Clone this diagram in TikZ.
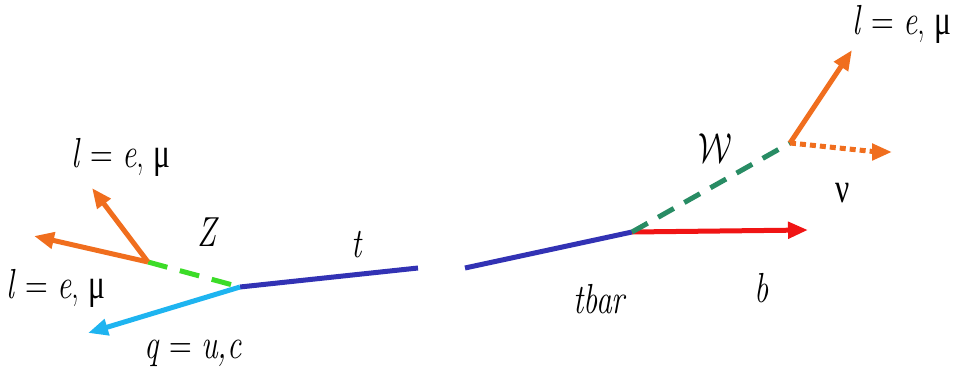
\RequirePackage{fix-cm}
\documentclass[tikz,border=0pt]{standalone}
\usepackage{fontspec}
\usetikzlibrary{arrows.meta}
\newfontfamily\gk{Liberation Serif}
\definecolor{corange}{RGB}{240,110,30}
\definecolor{cgreen}{RGB}{60,220,40}
\definecolor{cteal}{RGB}{40,140,100}
\definecolor{cblue}{RGB}{50,50,180}
\definecolor{ccyan}{RGB}{30,180,240}
\definecolor{cred}{RGB}{240,20,20}
\tikzset{
  lab/.style={font=\fontsize{42}{46}\selectfont, inner sep=0pt, anchor=base},
  ptl/.style={line width=5pt, -{Triangle[length=20pt,width=16pt]}},
  prop/.style={line width=5pt},
}
\newcommand{\sq}[1]{\scalebox{0.75}[1]{#1}}
\newcommand{\lem}{\sq{\textit{l} = \textit{e}, {\gk μ}}}
\begin{document}
\begin{tikzpicture}[x=1pt,y=-1pt]
\useasboundingbox (0,0) rectangle (954,377);
\coordinate (zv) at (148,262);
\coordinate (tv) at (240,287);
\coordinate (te) at (418,268);
\coordinate (tbs) at (465,268);
\coordinate (tbv) at (632,232);
\coordinate (wv) at (790,143);
\coordinate (l1) at (92,188);
\coordinate (l2) at (34,236);
\coordinate (q) at (88,333);
\coordinate (b) at (808,230);
\coordinate (l3) at (852,50);
\coordinate (nu) at (892,152);
% lines
\draw[prop, cblue] (tv) -- (te);
\draw[prop, cblue] (tbs) -- (tbv);
\draw[ptl, ccyan] (tv) -- (q);
\draw[prop, cgreen, dash pattern=on 20pt off 13pt] (zv) -- (tv);
\draw[ptl, corange] (zv) -- (l1);
\draw[ptl, corange] (zv) -- (l2);
\draw[ptl, cred] (tbv) -- (b);
\draw[prop, cteal, dash pattern=on 18pt off 12pt] (tbv) -- (wv);
\draw[ptl, corange] (wv) -- (l3);
\draw[line width=5pt, corange, dash pattern=on 6pt off 4pt] (wv) -- ([xshift=-14pt]nu);
\draw[ptl, corange] ([xshift=-16pt]nu) -- (nu);
% labels
\node[lab] (lab1) at (121,168) {\lem};
\node[lab] (lab2) at (56,298) {\lem};
\node[lab] (labz) at (208,247) {\sq{\textit{Z}}};
\node[lab] (labt) at (357,257) {\sq{\textit{t}}};
\node[lab] (labq) at (193,358) {\sq{\textit{q} = \textit{u,c}}};
\node[lab] (labtb) at (600,313) {\sq{\textit{tbar}}};
\node[lab] (labb) at (762,302) {\sq{\textit{b}}};
\node[lab] (labw) at (715,163) {\sq{$\mathcal{W}$}};
\node[lab] (labnu) at (843,203) {\sq{\gk ν}};
\node[lab] (lab3) at (902,35) {\lem};
\end{tikzpicture}
\end{document}
